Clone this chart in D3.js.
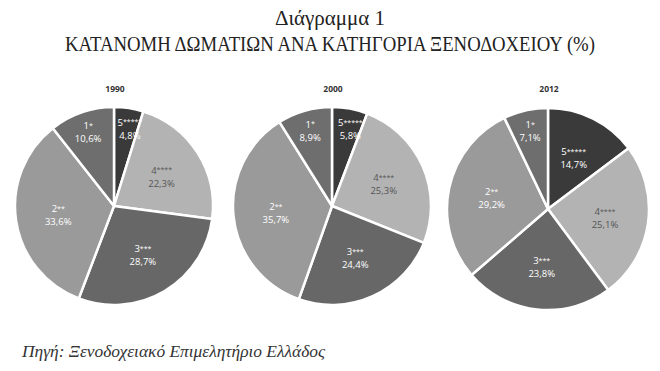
<!DOCTYPE html>
<html>
<head>
<meta charset="utf-8">
<script src="https://cdn.jsdelivr.net/npm/d3@7"></script>
<style>
  body { margin: 0; background: #fff; }
</style>
</head>
<body>
<div id="chart"></div>
<script>
// categories in clockwise order from 12 o'clock
var categories = ['5*****', '4****', '3***', '2**', '1*'];
var years = ['1990', '2000', '2012'];
var values1990 = [4.8, 22.3, 28.7, 33.6, 10.6];
var values2000 = [5.8, 25.3, 24.4, 35.7, 8.9];
var values2012 = [14.7, 25.1, 23.8, 29.2, 7.1];
var seriesValues = [values1990, values2000, values2012];

var width = 660,
  height = 371;

var svg = d3.select('#chart')
  .append('svg')
  .attr('width', width)
  .attr('height', height);

// Titles.

svg.append('text')
  .attr('x', 330)
  .attr('y', 25)
  .attr('text-anchor', 'middle')
  .style('font-family', '"Liberation Serif", "DejaVu Serif", serif')
  .style('font-size', '21px')
  .attr('fill', '#222')
  .text('Διάγραμμα 1');

svg.append('text')
  .attr('x', 330)
  .attr('y', 51)
  .attr('text-anchor', 'middle')
  .attr('textLength', 530)
  .attr('lengthAdjust', 'spacingAndGlyphs')
  .style('font-family', '"Liberation Serif", "DejaVu Serif", serif')
  .style('font-size', '21px')
  .attr('fill', '#222')
  .text('ΚΑΤΑΝΟΜΗ ΔΩΜΑΤΙΩΝ ΑΝΑ ΚΑΤΗΓΟΡΙΑ ΞΕΝΟΔΟΧΕΙΟΥ (%)');

svg.append('text')
  .attr('x', 22)
  .attr('y', 357)
  .attr('textLength', 303)
  .attr('lengthAdjust', 'spacingAndGlyphs')
  .style('font-family', '"Liberation Serif", "DejaVu Serif", serif')
  .style('font-style', 'italic')
  .style('font-size', '16px')
  .attr('fill', '#333')
  .text('Πηγή: Ξενοδοχειακό Επιμελητήριο Ελλάδος');

// Pies.

var colorScale = d3.scaleOrdinal()
  .domain(categories)
  .range(['#3a3a3a', '#b3b3b3', '#676767', '#9a9a9a', '#6e6e6e']);

var labelColor = d3.scaleOrdinal()
  .domain(categories)
  .range(['#fff', '#555', '#fff', '#fff', '#fff']);

var centers = [[114, 206, 99], [332, 206, 99], [548, 209, 101]];

var pie = d3.pie()
  .sort(null)
  .value(function(d) { return d.value; });

years.forEach(function(year, i) {
  var cx = centers[i][0], cy = centers[i][1], r = centers[i][2];
  var data = categories.map(function(c, j) {
    return { cat: c, value: seriesValues[i][j] };
  });

  var g = svg.append('g')
    .attr('transform', 'translate(' + cx + ',' + cy + ')');

  svg.append('text')
    .attr('x', cx + 1)
    .attr('y', 92)
    .attr('text-anchor', 'middle')
    .style('font-family', '"Open Sans", sans-serif')
    .style('font-weight', 'bold')
    .style('font-size', '8.5px')
    .attr('fill', '#333')
    .text(year);

  var arc = d3.arc()
    .innerRadius(0)
    .outerRadius(r);

  var arcs = pie(data);

  g.selectAll('path')
    .data(arcs)
    .enter()
    .append('path')
    .attr('d', arc)
    .attr('fill', function(d) { return colorScale(d.data.cat); })
    .attr('stroke', '#fff')
    .attr('stroke-width', 2.5)
    .attr('stroke-linejoin', 'round');

  // label position: small slices sit further out
  function labelPos(d) {
    var lr = d.data.value < 12 ? r * 0.8 : r * 0.57;
    var c = d3.arc().innerRadius(lr).outerRadius(lr).centroid(d);
    if (d.data.value < 7) c[0] += 4;
    return c;
  }

  var lbl = g.selectAll('g.lbl')
    .data(arcs)
    .enter()
    .append('g')
    .attr('class', 'lbl')
    .attr('transform', function(d) {
      var c = labelPos(d);
      return 'translate(' + c[0] + ',' + c[1] + ')';
    });

  var catText = lbl.append('text')
    .attr('y', -2)
    .attr('text-anchor', 'middle')
    .style('font-family', '"Open Sans", sans-serif')
    .style('font-size', '9.5px')
    .attr('fill', function(d) { return labelColor(d.data.cat); });

  catText.append('tspan')
    .text(function(d) { return d.data.cat.charAt(0); });

  // stars are small and raised
  catText.append('tspan')
    .style('font-size', '7px')
    .attr('dy', -1.5)
    .text(function(d) { return d.data.cat.slice(1); });

  lbl.append('text')
    .attr('y', 11)
    .attr('text-anchor', 'middle')
    .style('font-family', '"Open Sans", sans-serif')
    .style('font-size', '9.5px')
    .attr('fill', function(d) { return labelColor(d.data.cat); })
    .text(function(d) { return String(d.data.value).replace('.', ',') + '%'; });
});
</script>
</body>
</html>
